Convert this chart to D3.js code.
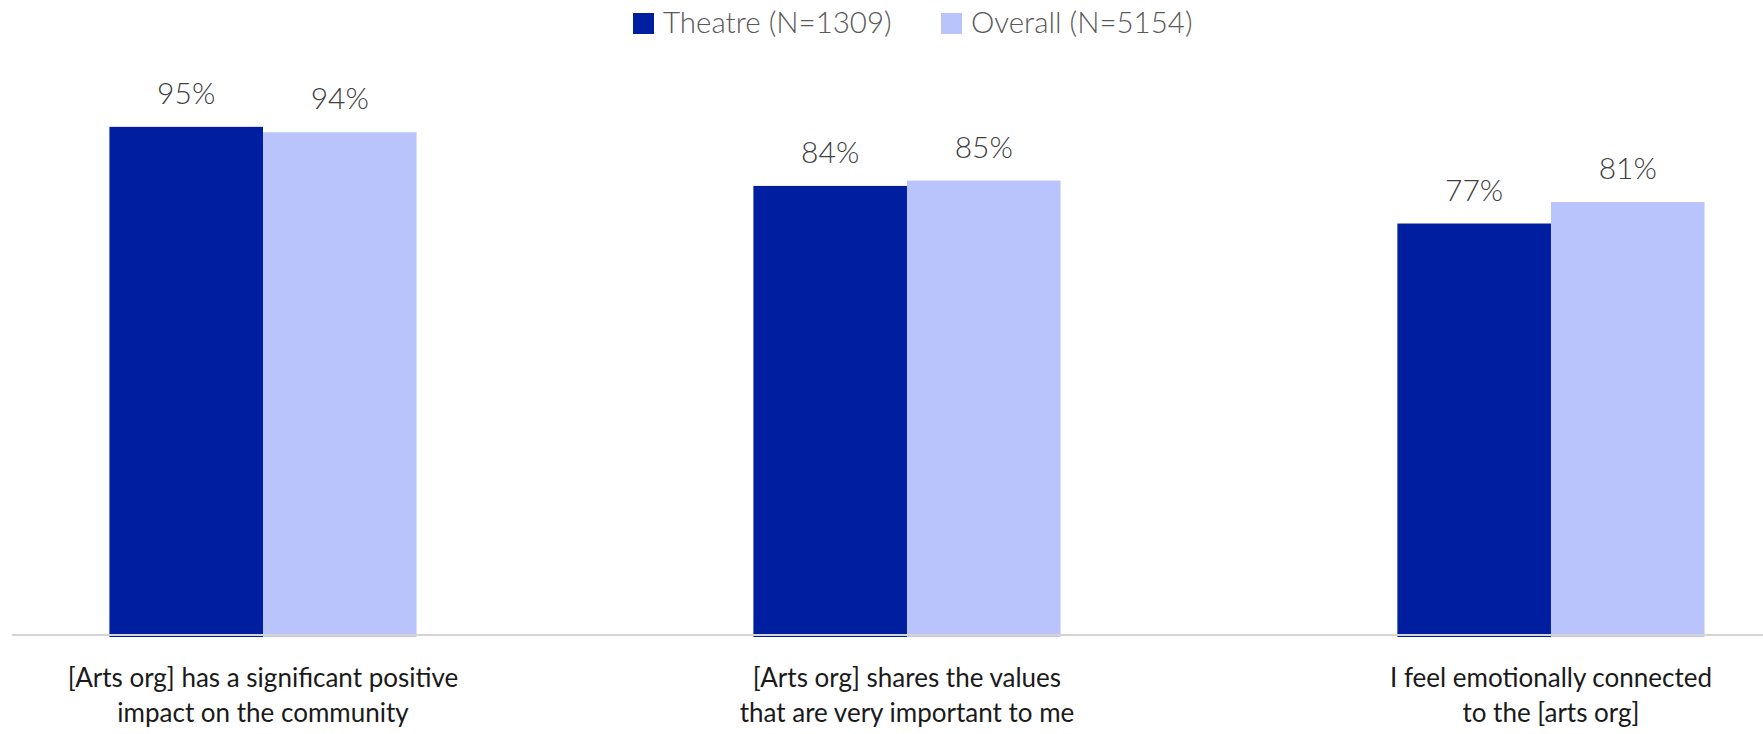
<!DOCTYPE html>
<html>
<head>
<meta charset="utf-8">
<script src="https://cdn.jsdelivr.net/npm/d3@7"></script>
<style>
  html, body { margin: 0; padding: 0; background: #ffffff; }
  svg { display: block; }
</style>
</head>
<body>
<svg id="chart" width="1763" height="734"></svg>
<script>
const categories = [
  ["[Arts org] has a significant positive", "impact on the community"],
  ["[Arts org] shares the values", "that are very important to me"],
  ["I feel emotionally connected", "to the [arts org]"]
];
const seriesNames = ["Theatre (N=1309)", "Overall (N=5154)"];
const theatreValues = [0.95, 0.84, 0.77];
const overallValues = [0.94, 0.85, 0.81];
const seriesColors = ["#001ea0", "#b9c4fc"];

const W = 1763, H = 734;
const svg = d3.select("#chart");

const catKeys = categories.map((c, i) => "c" + i);
const x0 = d3.scaleBand()
  .domain(catKeys)
  .range([12, 1763])
  .paddingInner(0.523)
  .paddingOuter(0.121)
  .align(0.625);

const x1 = d3.scaleBand()
  .domain(seriesNames)
  .range([0, x0.bandwidth()])
  .padding(0);

const y = d3.scaleLinear().domain([0, 1]).range([637, 100]);

const data = catKeys.map((k, i) => ({
  key: k,
  values: [
    { s: seriesNames[0], v: theatreValues[i], c: seriesColors[0] },
    { s: seriesNames[1], v: overallValues[i], c: seriesColors[1] }
  ]
}));

const groups = svg.append("g").selectAll("g")
  .data(data).join("g")
  .attr("transform", d => `translate(${x0(d.key)},0)`);

groups.selectAll("rect")
  .data(d => d.values).join("rect")
  .attr("x", d => x1(d.s))
  .attr("width", x1.bandwidth())
  .attr("y", d => y(d.v))
  .attr("height", d => y(0) - y(d.v))
  .attr("fill", d => d.c);

groups.selectAll("text.val")
  .data(d => d.values).join("text")
  .attr("class", "val")
  .attr("x", d => x1(d.s) + x1.bandwidth() / 2)
  .attr("y", d => y(d.v) - 23)
  .attr("text-anchor", "middle")
  .attr("font-family", "Lato, sans-serif")
  .attr("font-weight", 300)
  .attr("font-size", 30)
  .attr("fill", "#404040")
  .text(d => d3.format(".0%")(d.v));

// baseline axis
const xAxis = d3.axisBottom(x0).tickSize(0).tickFormat("");
const axisG = svg.append("g")
  .attr("transform", `translate(0,${y(0) - 2})`)
  .call(xAxis);
axisG.select(".domain").attr("stroke", "#d4d4d4").attr("stroke-width", 2)
  .attr("d", "M12,0H1763");

// category labels
const labG = svg.append("g");
categories.forEach((lines, i) => {
  const cx = x0(catKeys[i]) + x0.bandwidth() / 2;
  const t = labG.append("text")
    .attr("text-anchor", "middle")
    .attr("font-family", "Lato, sans-serif")
    .attr("font-size", 26)
    .attr("fill", "#1a1a1a");
  lines.forEach((ln, j) => {
    t.append("tspan").attr("x", cx).attr("y", 687 + j * 35).text(ln);
  });
});

// legend
const legend = svg.append("g");
const legX = [633, 941];
seriesNames.forEach((s, i) => {
  legend.append("rect")
    .attr("x", legX[i]).attr("y", 13)
    .attr("width", 21).attr("height", 21)
    .attr("fill", seriesColors[i]);
  legend.append("text")
    .attr("x", legX[i] + 30).attr("y", 33)
    .attr("font-family", "Lato, sans-serif")
    .attr("font-weight", 300)
    .attr("font-size", 29.5)
    .attr("fill", "#595959")
    .text(s);
});
</script>
</body>
</html>
